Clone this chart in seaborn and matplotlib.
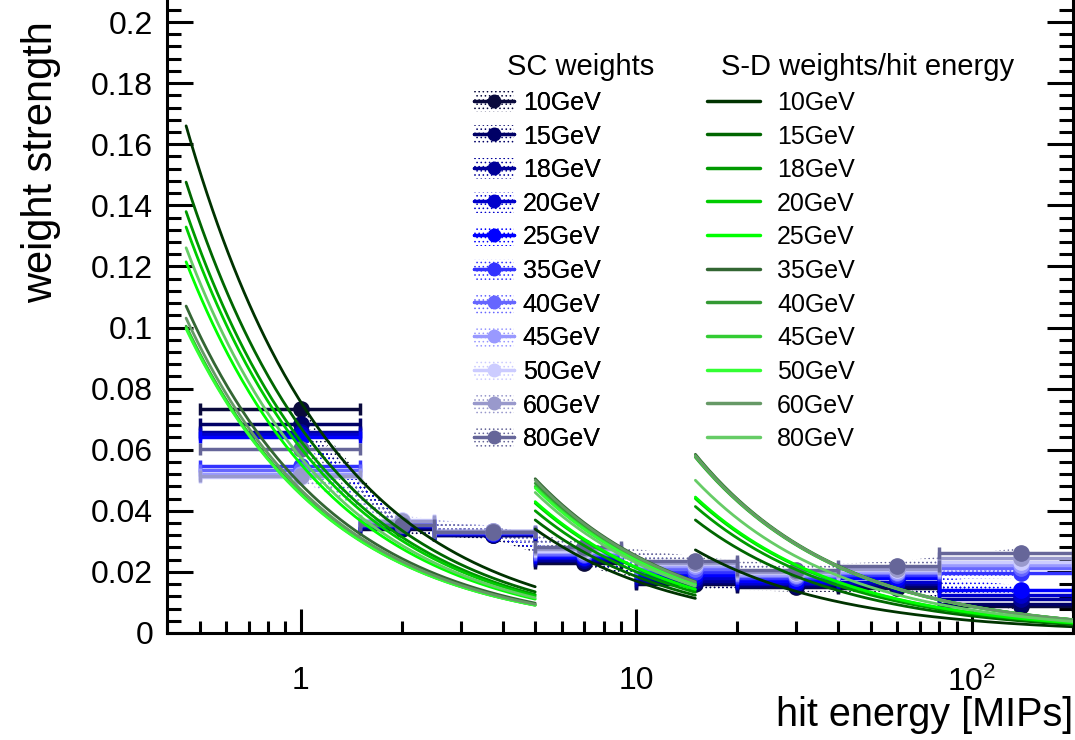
import numpy as np
import pandas as pd
import matplotlib
matplotlib.use("Agg")
import matplotlib.pyplot as plt
import seaborn as sns
from matplotlib.patches import Patch
from matplotlib.lines import Line2D
from matplotlib.ticker import MultipleLocator, FixedLocator, LogLocator, NullFormatter, FixedFormatter

# ---------------- data ----------------
energies = ["10GeV", "15GeV", "18GeV", "20GeV", "25GeV", "35GeV",
            "40GeV", "45GeV", "50GeV", "60GeV", "80GeV"]

sc_colors = ["#0a0a3c", "#000066", "#000099", "#0000cc", "#0000ff", "#3333ff",
             "#6666ff", "#9999ff", "#ccccff", "#9999cc", "#666699"]
sd_colors = ["#003300", "#006600", "#009900", "#00cc00", "#00ff00", "#336633",
             "#339933", "#33cc33", "#33ff33", "#669966", "#66cc66"]

# SC weight bins (hit energy in MIPs)
bin_center = [1, 2, 3.75, 7, 15, 30, 60, 140]
bin_low = [0.5, 1.5, 2.5, 5, 10, 20, 40, 80]
bin_high = [1.5, 2.5, 5, 9, 20, 40, 80, 200]

# SC weights per beam energy (one value per bin)
sc_10GeV = [0.0732, 0.0340, 0.0320, 0.0230, 0.0160, 0.0150, 0.0148, 0.0090]
sc_15GeV = [0.0683, 0.0345, 0.0322, 0.0235, 0.0165, 0.0155, 0.0155, 0.0095]
sc_18GeV = [0.0659, 0.0348, 0.0324, 0.0240, 0.0170, 0.0160, 0.0160, 0.0110]
sc_20GeV = [0.0651, 0.0350, 0.0325, 0.0245, 0.0180, 0.0165, 0.0168, 0.0125]
sc_25GeV = [0.0641, 0.0352, 0.0326, 0.0250, 0.0190, 0.0170, 0.0180, 0.0140]
sc_35GeV = [0.0547, 0.0355, 0.0328, 0.0255, 0.0200, 0.0180, 0.0190, 0.0195]
sc_40GeV = [0.0534, 0.0360, 0.0330, 0.0260, 0.0210, 0.0185, 0.0195, 0.0212]
sc_45GeV = [0.0519, 0.0365, 0.0333, 0.0265, 0.0218, 0.0190, 0.0200, 0.0223]
sc_50GeV = [0.0510, 0.0370, 0.0335, 0.0270, 0.0225, 0.0195, 0.0205, 0.0234]
sc_60GeV = [0.0514, 0.0368, 0.0334, 0.0275, 0.0230, 0.0200, 0.0210, 0.0244]
sc_80GeV = [0.0602, 0.0355, 0.0332, 0.0281, 0.0235, 0.0206, 0.0220, 0.0263]

# S-D weights for the three hit-energy ranges (curve = weight / hit energy)
seg_low = [0.456, 5, 15]
seg_high = [5, 15, 200]
sd_weight_seg1 = [0.0757, 0.0673, 0.0629, 0.0606, 0.0554, 0.0488,
                  0.0458, 0.0456, 0.0454, 0.0470, 0.0575]
sd_weight_seg2 = [0.170, 0.185, 0.200, 0.2125, 0.215, 0.2525,
                  0.245, 0.240, 0.2375, 0.250, 0.230]
sd_weight_seg3 = [0.408, 0.555, 0.621, 0.660, 0.6675, 0.8775,
                  0.8625, 0.867, 0.870, 0.870, 0.750]

sc_values = [sc_10GeV, sc_15GeV, sc_18GeV, sc_20GeV, sc_25GeV, sc_35GeV,
             sc_40GeV, sc_45GeV, sc_50GeV, sc_60GeV, sc_80GeV]
sd_weights = [sd_weight_seg1, sd_weight_seg2, sd_weight_seg3]

# ---------------- style ----------------
sns.set_theme(style="ticks")
plt.rcParams["font.family"] = ["Liberation Sans", "DejaVu Sans"]
plt.rcParams["mathtext.fontset"] = "custom"
plt.rcParams["mathtext.rm"] = "Liberation Sans"
plt.rcParams["hatch.linewidth"] = 0.6
plt.rcParams["axes.linewidth"] = 2.2
for key in ["text.color", "axes.labelcolor", "xtick.color", "ytick.color",
            "axes.edgecolor"]:
    plt.rcParams[key] = "black"

fig = plt.figure(figsize=(10.75, 7.4), dpi=100)
ax = fig.add_axes([167 / 1075, 107 / 740, (1073 - 167) / 1075, 633 / 740])

# SC weights: hatched band + horizontal error bars
centers = np.array(bin_center)
xerr = [centers - np.array(bin_low), np.array(bin_high) - centers]
for vals, col in zip(sc_values, sc_colors):
    y = np.array(vals)
    ax.fill_between(centers, y - 0.0015, y + 0.0015, facecolor="none",
                    edgecolor=col, hatch="....", linewidth=0, zorder=1)
    ax.errorbar(centers, y, xerr=xerr, fmt="o", color=col, ms=11,
                elinewidth=2.5, capsize=4, capthick=2.5, zorder=2)

# S-D weight / hit energy curves
rows = []
for s, (lo, hi) in enumerate(zip(seg_low, seg_high)):
    e_grid = np.geomspace(lo, hi, 200)
    for name, w in zip(energies, sd_weights[s]):
        for e in e_grid:
            rows.append({"E": e, "w": w / e, "energy": name, "seg": s})
df = pd.DataFrame(rows)
sns.lineplot(data=df, x="E", y="w", hue="energy", hue_order=energies,
             units="seg", estimator=None, palette=dict(zip(energies, sd_colors)),
             linewidth=2.0, legend=False, ax=ax, zorder=3)

# ---------------- axes ----------------
ax.set_xscale("log")
ax.set_xlim(0.4, 200)
ax.set_ylim(0, 0.2 * 633 / 611)
ax.xaxis.set_major_locator(FixedLocator([1, 10, 100]))
ax.xaxis.set_major_formatter(FixedFormatter(["1", "10", r"$\mathregular{10^{2}}$"]))
ax.xaxis.set_minor_locator(LogLocator(base=10, subs=np.arange(2, 10)))
ax.xaxis.set_minor_formatter(NullFormatter())
ax.yaxis.set_minor_locator(MultipleLocator(0.004))
ax.set_yticks([0, 0.02, 0.04, 0.06, 0.08, 0.1, 0.12, 0.14, 0.16, 0.18, 0.2])
ax.set_yticklabels(["0", "0.02", "0.04", "0.06", "0.08", "0.1", "0.12",
                    "0.14", "0.16", "0.18", "0.2"])
ax.spines["top"].set_visible(False)
ax.tick_params(which="both", direction="in", right=True, top=False,
               width=2.2, color="black", labelsize=23, labelcolor="black")
ax.tick_params(axis="y", which="major", length=19, pad=10)
ax.tick_params(axis="y", which="minor", length=10)
ax.tick_params(axis="x", which="major", length=17, pad=24)
ax.tick_params(axis="x", which="minor", length=9)

ax.set_xlabel("hit energy [MIPs]", fontsize=28.5, loc="right")
ax.xaxis.set_label_coords(1.0, -0.1)
ax.set_ylabel("weight strength", fontsize=30)
ax.yaxis.label.set_horizontalalignment("center")
ax.yaxis.label.set_verticalalignment("center")
ax.yaxis.set_label_coords(-0.139, 0.744)

# ---------------- legends ----------------
sc_handles = [(Patch(facecolor="white", edgecolor=c, hatch="....", linewidth=0),
               Line2D([], [], color=c, lw=2.5, marker="o", ms=9))
              for c in sc_colors]
leg1 = fig.legend(sc_handles, energies, loc="upper left",
                  bbox_to_anchor=(474 / 1075, (740 - 91) / 740), frameon=False,
                  fontsize=18, handlelength=1.6, handleheight=0.9,
                  handletextpad=0.35, labelspacing=0.385, borderpad=0,
                  borderaxespad=0, numpoints=1, labelcolor="black")
sd_handles = [Line2D([], [], color=c, lw=2.5) for c in sd_colors]
leg2 = fig.legend(sd_handles, energies, loc="upper left",
                  bbox_to_anchor=(707 / 1075, (740 - 91) / 740), frameon=False,
                  fontsize=18, handlelength=2.1, handleheight=0.9,
                  handletextpad=0.7, labelspacing=0.385, borderpad=0,
                  borderaxespad=0, labelcolor="black")
fig.add_artist(leg1)

fig.text(581 / 1075, (740 - 67) / 740, "SC weights", fontsize=21,
         ha="center", va="center")
fig.text(868 / 1075, (740 - 67) / 740, "S-D weights/hit energy", fontsize=21,
         ha="center", va="center")

fig.savefig("out.png", dpi=100)
